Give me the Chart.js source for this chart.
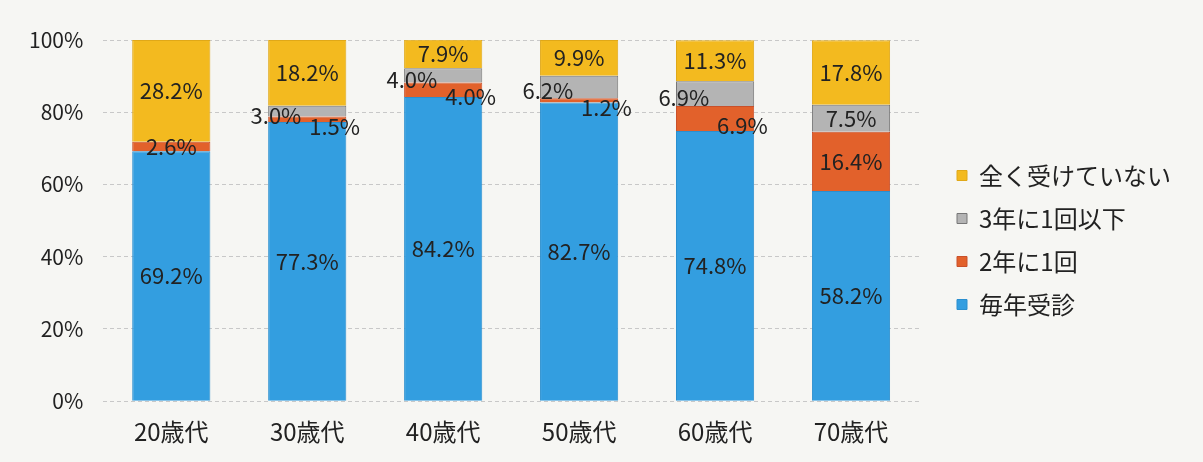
<!DOCTYPE html>
<html lang="ja">
<head>
    <meta charset="UTF-8">
    <title>年代別 受診状況</title>
    <script src="https://cdn.jsdelivr.net/npm/chart.js@4/dist/chart.umd.min.js"></script>
    <style>
        html, body { margin: 0; padding: 0; background: #f6f6f3; }
        #wrap { width: 1203px; height: 462px; }
    </style>
</head>
<body>
    <div id="wrap"><canvas id="chart"></canvas></div>

    <script>
        // data
        const ageGroups = ['20歳代', '30歳代', '40歳代', '50歳代', '60歳代', '70歳代'];
        const everyYear = [69.2, 77.3, 84.2, 82.7, 74.8, 58.2];
        const every2Years = [2.6, 1.5, 4.0, 1.2, 6.9, 16.4];
        const every3Years = [0, 3.0, 4.0, 6.2, 6.9, 7.5];
        const never = [28.2, 18.2, 7.9, 9.9, 11.3, 17.8];
        const yTicks = [0, 20, 40, 60, 80, 100];

        const FONT = '"Noto Sans CJK JP", "Noto Sans", sans-serif';

        // percentage labels; small grey/orange pairs get pushed apart like the original
        const segLabels = {
            id: 'segLabels',
            afterDatasetsDraw(chart) {
                const ctx = chart.ctx;
                ctx.save();
                ctx.font = '22px ' + FONT;
                ctx.fillStyle = '#222';
                ctx.textAlign = 'center';
                ctx.textBaseline = 'middle';
                chart.data.datasets.forEach((ds, di) => {
                    const meta = chart.getDatasetMeta(di);
                    meta.data.forEach((bar, i) => {
                        const v = ds.data[i];
                        if (!v) return;
                        let x = bar.x;
                        let y = (bar.y + bar.base) / 2;
                        const crowded = every3Years[i] > 0 && every3Years[i] < 8 && every2Years[i] < 8;
                        if (crowded && di === 2) { x -= bar.width * 0.4; y += 4; }
                        if (crowded && di === 1) { x += bar.width * 0.35; y += 7; }
                        ctx.fillText(v.toFixed(1) + '%', x, y);
                    });
                });
                ctx.restore();
            }
        };

        // leave a wider gap between the plot and the legend, and lift it a little
        const legendGap = {
            id: 'legendGap',
            afterLayout(chart) {
                const lg = chart.legend;
                lg.left += 19;
                lg.right += 19;
                lg.top -= 11;
                lg.bottom -= 11;
            }
        };

        new Chart(document.getElementById('chart'), {
            type: 'bar',
            data: {
                labels: ageGroups,
                datasets: [
                    { label: '毎年受診', data: everyYear, backgroundColor: '#339ee0', borderColor: '#2b8fcf' },
                    { label: '2年に1回', data: every2Years, backgroundColor: '#e2612b', borderColor: '#c9502a' },
                    { label: '3年に1回以下', data: every3Years, backgroundColor: '#b4b4b4', borderColor: '#777' },
                    { label: '全く受けていない', data: never, backgroundColor: '#f3ba1f', borderColor: '#e0a818' }
                ].map(d => Object.assign(d, { borderWidth: 1, categoryPercentage: 1, barPercentage: 0.575 }))
            },
            options: {
                responsive: true,
                maintainAspectRatio: false,
                animation: false,
                layout: { padding: { top: 40, right: 41, bottom: 0, left: 9 } },
                scales: {
                    x: {
                        stacked: true,
                        grid: { display: false, drawTicks: false },
                        border: { display: false },
                        ticks: { color: '#222', font: { family: FONT, size: 24 }, padding: 16 }
                    },
                    y: {
                        stacked: true,
                        min: 0,
                        max: 100,
                        afterBuildTicks: s => { s.ticks = yTicks.map(v => ({ value: v })); },
                        grid: { color: '#c8c8c8', drawTicks: false },
                        border: { display: false, dash: [4, 3] },
                        ticks: { color: '#222', font: { family: FONT, size: 21 }, padding: 20, callback: v => v + '%' }
                    }
                },
                plugins: {
                    tooltip: { enabled: false },
                    legend: {
                        position: 'right',
                        reverse: true,
                        labels: {
                            color: '#222',
                            font: { family: FONT, size: 24 },
                            boxWidth: 10,
                            boxHeight: 10,
                            padding: 19
                        }
                    }
                }
            },
            plugins: [segLabels, legendGap]
        });
    </script>
</body>
</html>
